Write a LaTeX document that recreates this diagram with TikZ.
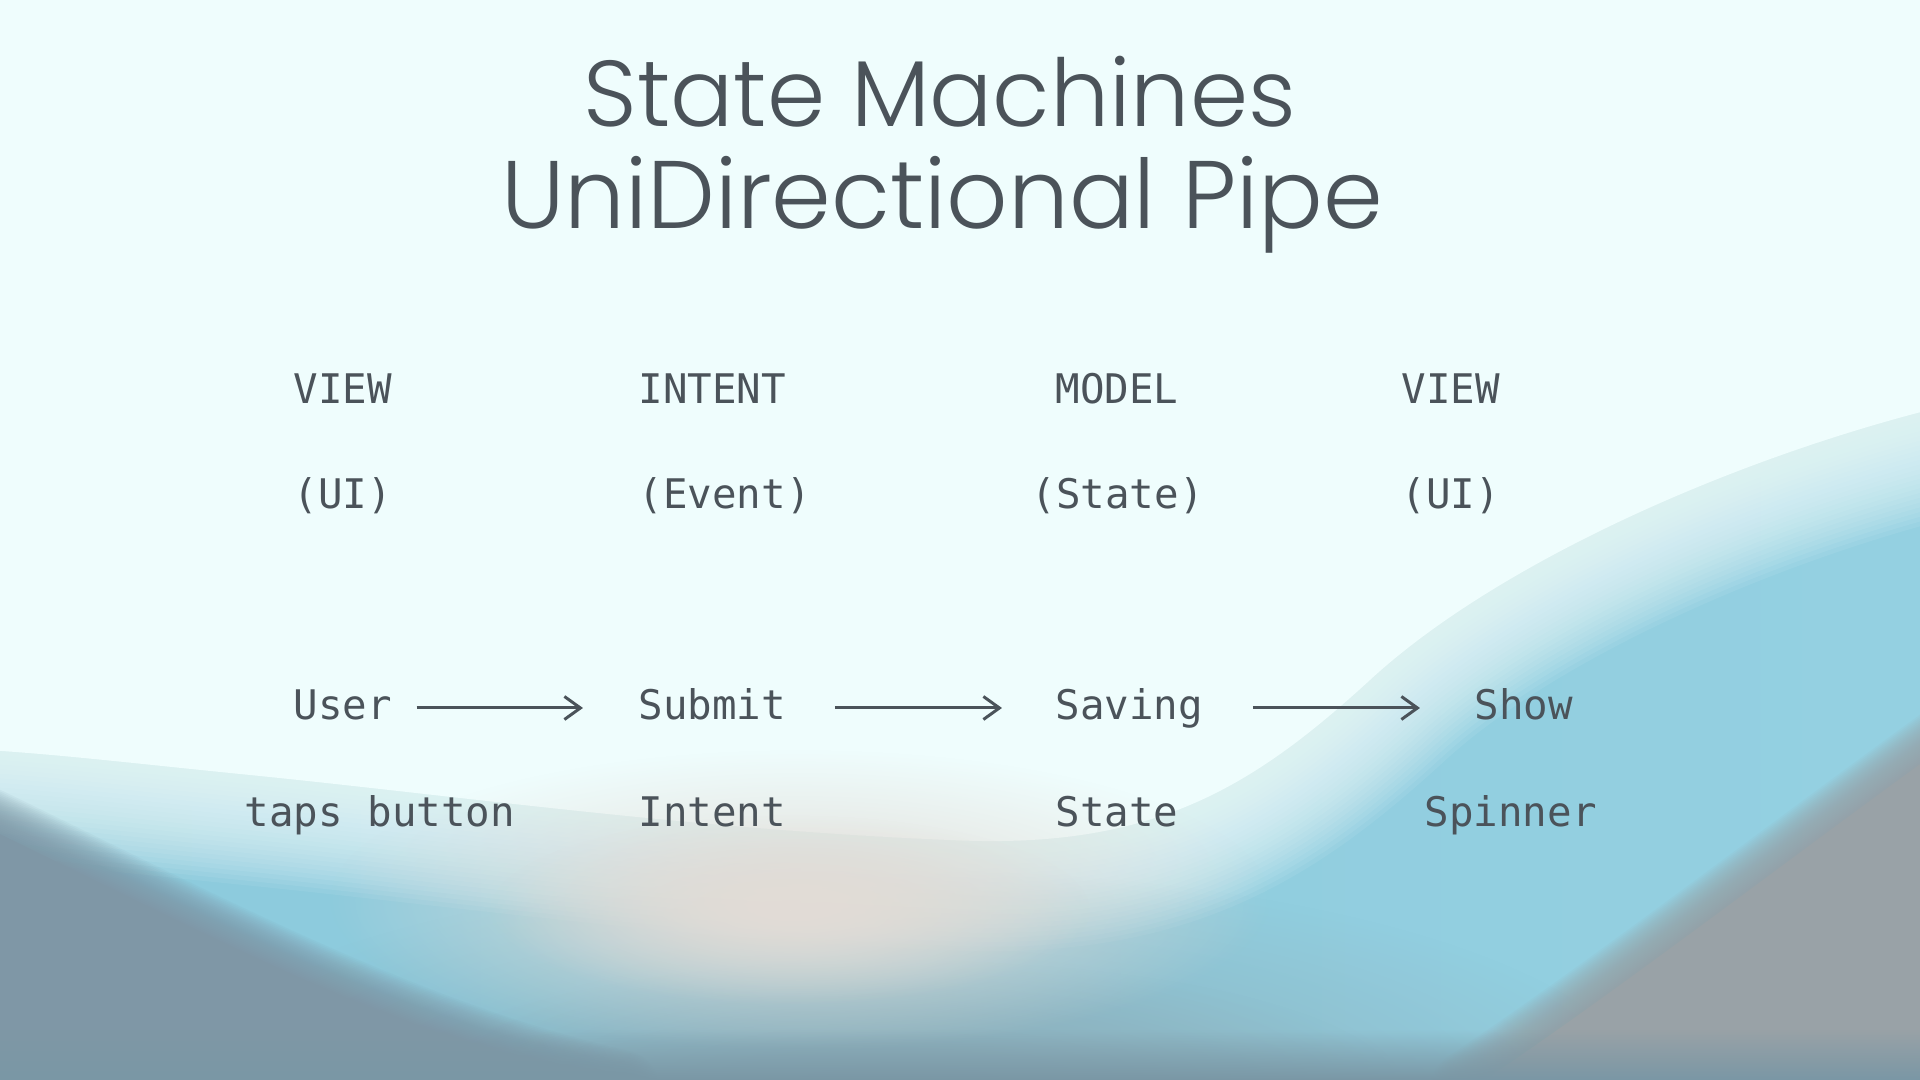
\documentclass[tikz,border=0pt]{standalone}
\usepackage{fontspec}
\setmonofont{DejaVu Sans Mono}
\newfontfamily\titlefont{Poppins}[UprightFont={* Light}]
\usetikzlibrary{arrows.meta,fadings}
\definecolor{inkgrey}{HTML}{4B535A}
\definecolor{bglight}{HTML}{EFFDFD}
\definecolor{bgblueleft}{HTML}{8CCADC}
\definecolor{bgbluemid}{HTML}{9CBDC8}
\definecolor{bgblueright}{HTML}{94D0E1}
\definecolor{bgbeige}{HTML}{E2DCD6}
\definecolor{bgslate}{HTML}{8DAFBB}
\definecolor{hillleft}{HTML}{7F97A6}
\definecolor{hillright}{HTML}{99A2A7}
\definecolor{bgbottom}{HTML}{7A97A5}
\tikzfading[name=softspot,inner color=transparent!0,outer color=transparent!100]
\tikzset{
  titlelabel/.style={font=\titlefont\fontsize{26.6}{32}\selectfont,text=inkgrey,inner sep=0pt,anchor=base},
  headlabel/.style={font=\ttfamily\fontsize{11.6}{14}\selectfont,text=inkgrey,inner sep=0pt,anchor=base west},
  flowlabel/.style={headlabel,text height=0.32cm,text depth=0.08cm},
  pipearrow/.style={-{Straight Barb[length=1.6mm,width=2.3mm]},line width=0.85pt,draw=inkgrey}
}
% soft edged patch: colour, blur width, path
\newcommand{\softpatch}[3]{%
  \foreach \k in {24,23,...,1}{\draw[#1,opacity=0.08,line width=\k*#2/24,line join=round] #3;}
  \fill[#1] #3;}

\begin{document}
\begin{tikzpicture}[x=0.01cm,y=-0.01cm]
  \useasboundingbox (0,0) rectangle (1920,1080);
  % blurred backdrop
  \begin{scope}
    \clip (0,0) rectangle (1920,1080);
    \shade[left color=bgblueleft,middle color=bgbluemid,right color=bgblueright] (0,0) rectangle (1920,1080);
    \softpatch{bglight}{2.2cm}{(-50,-50) -- (1970,-50) -- (1970,400) .. controls (1750,450) and (1500,560) .. (1370,680) .. controls (1250,790) and (1150,850) .. (950,840) .. controls (700,830) and (450,795) .. (250,775) .. controls (120,762) and (40,752) .. (-50,748) -- cycle}
    \fill[bgslate,path fading=softspot] (900,1100) ellipse [x radius=750,y radius=230];
    \fill[bgslate,path fading=softspot] (900,1090) ellipse [x radius=500,y radius=130];
    \fill[bgbeige,path fading=softspot] (800,900) ellipse [x radius=470,y radius=150];
    \fill[bgbeige,path fading=softspot] (790,910) ellipse [x radius=300,y radius=95];
    \softpatch{hillleft}{0.8cm}{(-50,810) .. controls (200,930) and (400,1040) .. (620,1090) -- (-50,1090) -- cycle}
    \softpatch{hillright}{0.8cm}{(1970,728) .. controls (1800,850) and (1620,990) .. (1470,1090) -- (1970,1090) -- cycle}
    \fill[bgbottom,path fading=north] (-50,1030) rectangle (1970,1080);
  \end{scope}

  % title
  \node[titlelabel] (title1) at (940,127) {State Machines};
  \node[titlelabel,font=\titlefont\fontsize{27.3}{32}\selectfont] (title2) at (942,229) {UniDirectional Pipe};

  % layer heads
  \node[headlabel] (view1) at (293,404) {VIEW};
  \node[headlabel] (intent) at (638,404) {INTENT};
  \node[headlabel] (model) at (1055,404) {MODEL};
  \node[headlabel] (view2) at (1401,404) {VIEW};
  \node[headlabel] (ui1) at (293,509) {(UI)};
  \node[headlabel] (event) at (638,509) {(Event)};
  \node[headlabel] (state) at (1031,509) {(State)};
  \node[headlabel] (ui2) at (1401,509) {(UI)};

  % flow
  \node[flowlabel] (user) at (293,720) {User};
  \node[flowlabel] (submit) at (638,720) {Submit};
  \node[flowlabel] (saving) at (1055,720) {Saving};
  \node[flowlabel] (show) at (1474,720) {Show};
  \node[headlabel] (taps) at (244,827) {taps button};
  \node[headlabel] (intentnote) at (638,827) {Intent};
  \node[headlabel] (statenote) at (1055,827) {State};
  \node[headlabel] (spinner) at (1424,827) {Spinner};

  \draw[pipearrow,shorten <=2.4mm,shorten >=5.5mm] (user.east) -- (submit.west);
  \draw[pipearrow,shorten <=4.8mm,shorten >=5.3mm] (submit.east) -- (saving.west);
  \draw[pipearrow,shorten <=4.9mm,shorten >=5.4mm] (saving.east) -- (show.west);
\end{tikzpicture}
\end{document}
